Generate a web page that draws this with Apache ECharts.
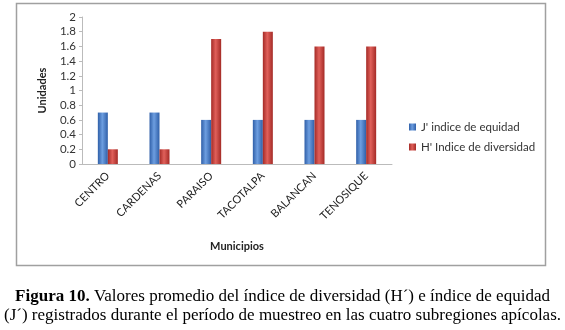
<!DOCTYPE html>
<html>
<head>
<meta charset="utf-8">
<script src="https://cdn.jsdelivr.net/npm/echarts@6/dist/echarts.min.js"></script>
<style>
  html, body { margin: 0; padding: 0; background: #fff; }
  #main { width: 565px; height: 330px; }
</style>
</head>
<body>
<div id="main"></div>
<script>
// datos
const municipios = ['CENTRO', 'CARDENAS', 'PARAISO', 'TACOTALPA', 'BALANCAN', 'TENOSIQUE'];
const equidad = [0.7, 0.7, 0.6, 0.6, 0.6, 0.6];
const diversidad = [0.2, 0.2, 1.7, 1.8, 1.6, 1.6];
const nombres = ["J' indice de equidad", "H' Indice de diversidad"];

// degradado tipo cilindro
function cilindro(oscuro, claro) {
    return new echarts.graphic.LinearGradient(0, 0, 1, 0, [
        { offset: 0, color: oscuro },
        { offset: 0.45, color: claro },
        { offset: 1, color: oscuro }
    ]);
}

let myChart = echarts.init(document.getElementById('main'));
let font = 'Lato, "Noto Sans", sans-serif';
let serif = '"Liberation Serif", serif';
let option = {
    animation: false,
    textStyle: { fontFamily: font },
    grid: { left: 82, right: 173, top: 17, bottom: 166 },
    legend: {
        orient: 'vertical',
        left: 404,
        top: 116,
        itemWidth: 7,
        itemHeight: 7,
        itemGap: 8,
        icon: 'rect',
        textStyle: { fontSize: 11.5, color: '#333', fontFamily: font },
        data: nombres
    },
    xAxis: {
        type: 'category',
        data: municipios,
        name: 'Municipios',
        nameLocation: 'middle',
        nameGap: 77,
        nameTextStyle: { fontSize: 11, fontWeight: 'bold', color: '#222', fontFamily: font },
        axisLine: { lineStyle: { color: '#bbb' } },
        axisTick: { show: false },
        axisLabel: { rotate: 45, fontSize: 11, color: '#222', margin: 10, interval: 0 }
    },
    yAxis: {
        type: 'value',
        min: 0,
        max: 2,
        interval: 0.2,
        name: 'Unidades',
        nameLocation: 'middle',
        nameGap: 34,
        nameTextStyle: { fontSize: 11, fontWeight: 'bold', color: '#222', fontFamily: font },
        axisLine: { show: true, lineStyle: { color: '#bbb' } },
        axisTick: { show: true, length: 3, lineStyle: { color: '#bbb' } },
        splitLine: { show: false },
        axisLabel: {
            fontSize: 11.5, color: '#333', margin: 6,
            formatter: function (v) { return String(Math.round(v * 10) / 10); }
        }
    },
    series: [{
        name: nombres[0],
        type: 'bar',
        data: equidad,
        barWidth: 10,
        barGap: '0%',
        itemStyle: { color: cilindro('#2f5fa8', '#6d9ee0') }
    }, {
        name: nombres[1],
        type: 'bar',
        data: diversidad,
        barWidth: 10,
        itemStyle: { color: cilindro('#a42a26', '#e0605a') }
    }],
    graphic: [{
        type: 'rect',
        shape: { x: 16.5, y: 3.5, width: 529, height: 262 },
        style: { fill: 'none', stroke: '#a0a0a0', lineWidth: 1.5 },
        silent: true
    }, {
        type: 'text',
        left: 'center',
        top: 288,
        style: {
            text: '{b|Figura 10.} Valores promedio del índice de diversidad (H´) e índice de equidad',
            font: '17px ' + serif,
            fill: '#000',
            rich: { b: { fontWeight: 'bold', fontSize: 17, fontFamily: serif } }
        }
    }, {
        type: 'text',
        left: 'center',
        top: 307,
        style: {
            text: '(J´) registrados durante el período de muestreo en las cuatro subregiones apícolas.',
            font: '17px ' + serif,
            fill: '#000'
        }
    }]
};

if (option && typeof option === "object") {
    myChart.setOption(option, true);
}
</script>
</body>
</html>
